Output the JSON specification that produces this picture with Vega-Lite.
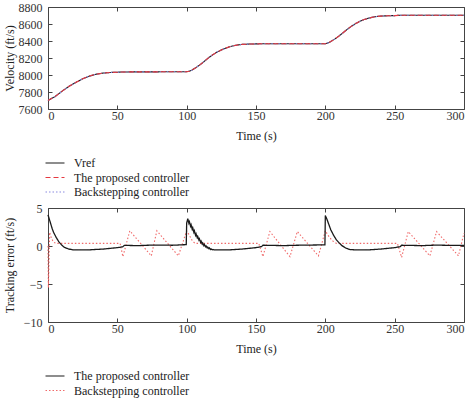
{
  "$schema": "https://vega.github.io/schema/vega-lite/v6.json",
  "padding": {"left": 2, "top": 0, "right": 4, "bottom": 0},
  "background": "white",
  "spacing": 2,
  "resolve": {"scale": {"color": "independent", "strokeDash": "independent"}, "legend": {"color": "independent", "strokeDash": "independent"}},
  "config": {
    "font": "Liberation Serif",
    "view": {"stroke": "#444", "strokeWidth": 1},
    "axis": {"grid": false, "domain": false, "tickSize": -4, "tickColor": "#444", "labelFont": "Liberation Serif", "labelFontSize": 12, "labelColor": "#333", "titleFont": "Liberation Serif", "titleFontSize": 12, "titleFontWeight": "normal", "titleColor": "#222", "labelPadding": 5, "format": "d"},
    "axisY": {"labelPadding": 10},
    "legend": {"orient": "none", "labelFont": "Liberation Serif", "labelFontSize": 12, "labelColor": "#222", "symbolType": "M-1.5,0H1.5", "symbolSize": 160, "symbolStrokeWidth": 1.2, "rowPadding": 1.5, "padding": 0, "labelOffset": 12, "title": null}
  },
  "datasets": {
    "vel": [
      {"t":0,"v":7700},{"t":5,"v":7745},{"t":10,"v":7808},{"t":15,"v":7865},{"t":20,"v":7912},{"t":25,"v":7955},{"t":30,"v":7988},{"t":35,"v":8010},{"t":40,"v":8023},{"t":45,"v":8030},{"t":50,"v":8033},{"t":55,"v":8036},{"t":70,"v":8037},{"t":100,"v":8038},
      {"t":102,"v":8045},{"t":104,"v":8060},{"t":107,"v":8090},{"t":110,"v":8125},{"t":113,"v":8165},{"t":116,"v":8205},{"t":119,"v":8240},{"t":122,"v":8270},{"t":125,"v":8295},{"t":128,"v":8315},{"t":131,"v":8332},{"t":134,"v":8345},{"t":137,"v":8354},{"t":140,"v":8360},{"t":145,"v":8364},{"t":150,"v":8366},{"t":155,"v":8368},{"t":200,"v":8368},
      {"t":202,"v":8378},{"t":204,"v":8395},{"t":207,"v":8425},{"t":210,"v":8460},{"t":213,"v":8500},{"t":216,"v":8540},{"t":219,"v":8575},{"t":222,"v":8607},{"t":225,"v":8632},{"t":228,"v":8652},{"t":231,"v":8668},{"t":234,"v":8680},{"t":237,"v":8688},{"t":240,"v":8693},{"t":245,"v":8697},{"t":250,"v":8699},{"t":253,"v":8702},{"t":260,"v":8703},{"t":300,"v":8703}
    ],
    "errP": [
      {"t":0,"v":4.1},{"t":1,"v":3.5},{"t":2,"v":2.9},{"t":3,"v":2.3},{"t":4,"v":1.8},{"t":6,"v":1.1},{"t":8,"v":0.5},{"t":10,"v":0.1},{"t":12,"v":-0.2},{"t":15,"v":-0.4},{"t":18,"v":-0.5},{"t":25,"v":-0.52},{"t":30,"v":-0.5},{"t":40,"v":-0.4},{"t":50,"v":-0.22},{"t":54,"v":-0.1},{"t":55,"v":0.08},{"t":65,"v":0.05},{"t":75,"v":0.12},{"t":90,"v":0.1},{"t":99.7,"v":0.18},
      {"t":100,"v":3.0},{"t":100.8,"v":3.6},{"t":101.6,"v":3.0},{"t":102,"v":3.2},{"t":102.8,"v":2.6},{"t":103.2,"v":2.8},{"t":104,"v":2.2},{"t":104.4,"v":2.4},{"t":105.2,"v":1.8},{"t":105.6,"v":2.0},{"t":106.4,"v":1.4},{"t":106.8,"v":1.6},{"t":107.6,"v":1.1},{"t":108,"v":1.25},{"t":108.8,"v":0.8},{"t":109.2,"v":0.95},{"t":110,"v":0.5},{"t":110.4,"v":0.65},{"t":111.2,"v":0.25},{"t":111.6,"v":0.4},{"t":112.4,"v":0.05},{"t":112.8,"v":0.2},{"t":113.6,"v":-0.1},{"t":114,"v":0.0},{"t":114.8,"v":-0.25},{"t":115.2,"v":-0.15},{"t":116,"v":-0.35},{"t":116.4,"v":-0.25},{"t":117.2,"v":-0.45},{"t":117.6,"v":-0.38},{"t":118.5,"v":-0.5},{"t":119,"v":-0.45},{"t":120,"v":-0.52},{"t":130,"v":-0.52},{"t":140,"v":-0.4},{"t":150,"v":-0.22},{"t":154,"v":-0.08},{"t":155,"v":0.1},{"t":170,"v":0.05},{"t":180,"v":0.1},{"t":199.7,"v":0.15},
      {"t":200,"v":4.0},{"t":201,"v":3.6},{"t":202,"v":3.1},{"t":203,"v":2.6},{"t":204,"v":2.1},{"t":206,"v":1.4},{"t":208,"v":0.8},{"t":210,"v":0.4},{"t":212,"v":0.05},{"t":215,"v":-0.3},{"t":218,"v":-0.48},{"t":225,"v":-0.52},{"t":232,"v":-0.5},{"t":240,"v":-0.4},{"t":250,"v":-0.22},{"t":254,"v":-0.08},{"t":255,"v":0.1},{"t":270,"v":0.05},{"t":280,"v":0.12},{"t":290,"v":0.08},{"t":300,"v":0.08}
    ],
    "errB": [
      {"t":0,"v":0},{"t":0.3,"v":-5.5},{"t":1.2,"v":1.8},{"t":2.5,"v":1.0},{"t":4,"v":0.5},{"t":6,"v":0.35},{"t":52,"v":0.35},{"t":54,"v":-1.4},{"t":59,"v":2.0},{"t":74.5,"v":-1.3},{"t":78.5,"v":2.0},{"t":94,"v":-1.3},{"t":100,"v":2.0},{"t":102,"v":1.4},{"t":104,"v":0.7},{"t":106,"v":0.35},
      {"t":152,"v":0.35},{"t":155,"v":-1.4},{"t":160,"v":1.9},{"t":174.5,"v":-1.4},{"t":179.8,"v":1.9},{"t":195,"v":-1.3},{"t":200,"v":2.0},{"t":202,"v":1.4},{"t":205,"v":0.7},{"t":208,"v":0.35},
      {"t":252,"v":0.35},{"t":255,"v":-1.5},{"t":259.8,"v":1.9},{"t":275.4,"v":-1.3},{"t":280.2,"v":1.9},{"t":296,"v":-1.3},{"t":300,"v":1.7}
    ]
  },
  "vconcat": [
    {
      "width": 416,
      "height": 102,
      "data": {"name": "vel"},
      "encoding": {
        "x": {"field": "t", "type": "quantitative", "scale": {"domain": [0, 300], "nice": false}, "axis": null},
        "y": {"field": "v", "type": "quantitative", "scale": {"domain": [7600, 8800], "nice": false}, "axis": null},
        "color": {"scale": {"domain": ["Vref", "The proposed controller", "Backstepping controller"], "range": ["#1a1a1a", "#e53840", "#8a8ae0"]}, "legend": {"legendX": 0, "legendY": 149}},
        "strokeDash": {"scale": {"domain": ["Vref", "The proposed controller", "Backstepping controller"], "range": [[1, 0], [5, 3], [1.5, 2]]}, "legend": {"legendX": 0, "legendY": 149}}
      },
      "layer": [
        {
          "mark": {"type": "line", "strokeWidth": 1.1},
          "encoding": {
            "x": {"field": "t", "type": "quantitative", "axis": {"values": [0,50,100,150,200,250,300], "title": "Time (s)", "titlePadding": 9}},
            "y": {"field": "v", "type": "quantitative", "axis": {"values": [7600,7800,8000,8200,8400,8600,8800], "title": "Velocity (ft/s)", "titleX": -32}},
            "color": {"datum": "Vref"},
            "strokeDash": {"datum": "Vref"}
          }
        },
        {
          "mark": {"type": "line", "strokeWidth": 1.1},
          "encoding": {"color": {"datum": "Backstepping controller"}, "strokeDash": {"datum": "Backstepping controller"}}
        },
        {
          "mark": {"type": "line", "strokeWidth": 1.1},
          "encoding": {"color": {"datum": "The proposed controller"}, "strokeDash": {"datum": "The proposed controller"}}
        },
        {
          "mark": {"type": "line", "opacity": 0},
          "encoding": {
            "x": {"field": "t", "type": "quantitative", "axis": {"orient": "top", "labels": false, "title": null, "values": [0,50,100,150,200,250,300]}},
            "y": {"field": "v", "type": "quantitative", "axis": {"orient": "right", "labels": false, "title": null, "values": [7600,7800,8000,8200,8400,8600,8800]}}
          }
        }
      ],
      "resolve": {"axis": {"x": "independent", "y": "independent"}}
    },
    {
      "width": 416,
      "height": 114,
      "encoding": {
        "x": {"field": "t", "type": "quantitative", "scale": {"domain": [0, 300], "nice": false}, "axis": null},
        "y": {"field": "v", "type": "quantitative", "scale": {"domain": [-10, 5], "nice": false}, "axis": null},
        "color": {"scale": {"domain": ["The proposed controller", "Backstepping controller"], "range": ["#1a1a1a", "#f06a6a"]}, "legend": {"legendX": 0, "legendY": 161}},
        "strokeDash": {"scale": {"domain": ["The proposed controller", "Backstepping controller"], "range": [[1, 0], [1.5, 2]]}, "legend": {"legendX": 0, "legendY": 161}}
      },
      "layer": [
        {
          "data": {"name": "errB"},
          "mark": {"type": "line", "strokeWidth": 1.1},
          "encoding": {
            "x": {"field": "t", "type": "quantitative", "axis": {"values": [0,50,100,150,200,250,300], "title": "Time (s)", "titlePadding": 9}},
            "y": {"field": "v", "type": "quantitative", "axis": {"values": [-10,-5,0,5], "title": "Tracking error (ft/s)", "titleX": -32}},
            "color": {"datum": "Backstepping controller"},
            "strokeDash": {"datum": "Backstepping controller"}
          }
        },
        {
          "data": {"name": "errP"},
          "mark": {"type": "line", "strokeWidth": 1.3},
          "encoding": {"color": {"datum": "The proposed controller"}, "strokeDash": {"datum": "The proposed controller"}}
        },
        {
          "data": {"name": "errP"},
          "mark": {"type": "line", "opacity": 0},
          "encoding": {
            "x": {"field": "t", "type": "quantitative", "axis": {"orient": "top", "labels": false, "title": null, "values": [0,50,100,150,200,250,300]}},
            "y": {"field": "v", "type": "quantitative", "axis": {"orient": "right", "labels": false, "title": null, "values": [-10,-5,0,5]}}
          }
        }
      ],
      "resolve": {"axis": {"x": "independent", "y": "independent"}}
    }
  ]
}
